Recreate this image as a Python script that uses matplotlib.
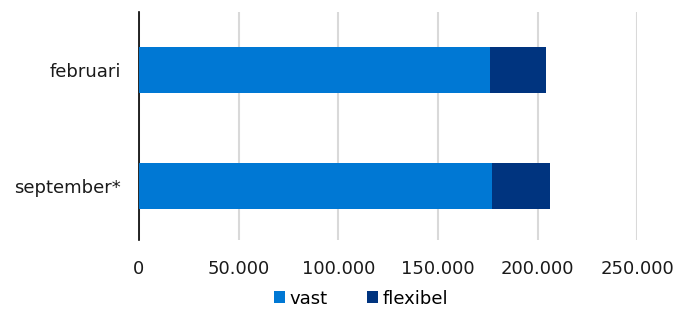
import matplotlib
matplotlib.use("Agg")
from matplotlib import pyplot as plt
from matplotlib.ticker import FuncFormatter

# data
maanden = ['september*', 'februari']
vast = [177200, 176200]
flexibel = [28800, 27800]

kleur_vast = '#0078d4'
kleur_flex = '#00347f'

fig = plt.figure(figsize=(6.76, 3.09), dpi=100)
ax = fig.add_axes([0.2056, 0.223, 0.7374, 0.738])

ypos = range(len(maanden))
ax.barh(ypos, vast, height=0.4, color=kleur_vast, label='vast', zorder=3)
ax.barh(ypos, flexibel, left=vast, height=0.4, color=kleur_flex, label='flexibel', zorder=3)

ax.set_xlim(0, 250000)
ax.set_ylim(-0.47, 1.5)
ax.set_xticks([0, 50000, 100000, 150000, 200000, 250000])
ax.xaxis.set_major_formatter(FuncFormatter(lambda v, p: f'{int(v):,}'.replace(',', '.')))
ax.set_yticks(list(ypos))
ax.set_yticklabels(maanden)

ax.grid(axis='x', color='#d9d9d9', linewidth=1.5, zorder=0)
for s in ['top', 'right', 'bottom']:
    ax.spines[s].set_visible(False)
ax.spines['left'].set_color('black')
ax.spines['left'].set_linewidth(1.2)
ax.tick_params(axis='both', length=0, labelsize=13, colors='#1a1a1a')
ax.tick_params(axis='x', pad=14)
ax.tick_params(axis='y', pad=13)

ax.legend(loc='upper center', bbox_to_anchor=(0.445, -0.185), ncol=2, frameon=False,
          fontsize=13, handlelength=0.6, handleheight=0.6, handletextpad=0.25,
          columnspacing=2.2, borderaxespad=0)

plt.savefig('out.png', dpi=100)
